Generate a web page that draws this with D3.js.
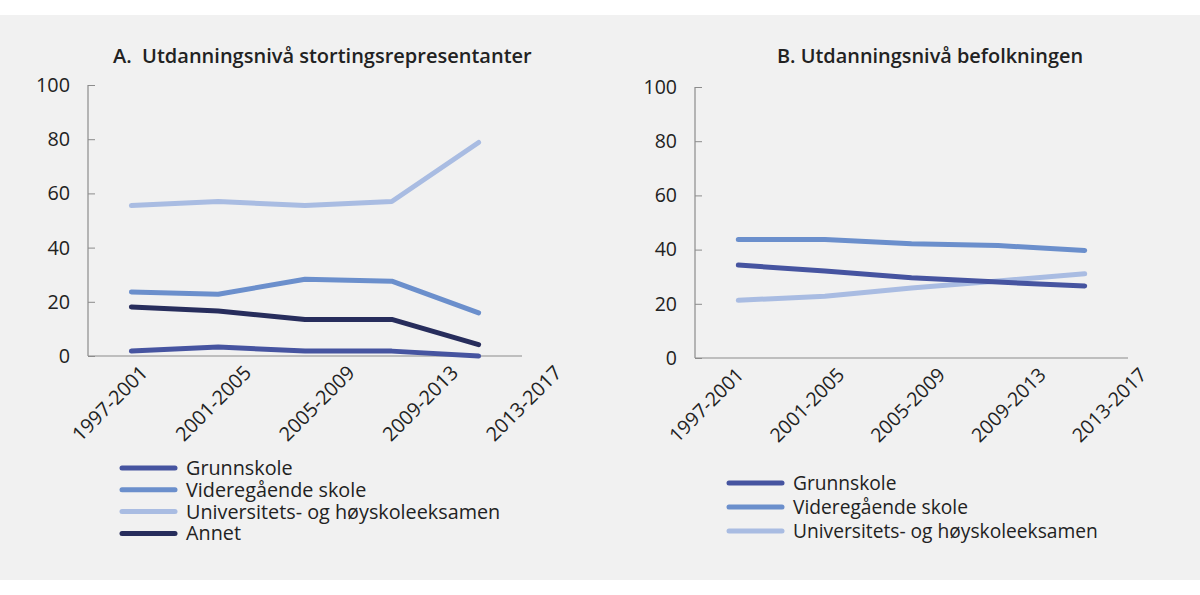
<!DOCTYPE html>
<html>
<head>
<meta charset="utf-8">
<script src="https://cdn.jsdelivr.net/npm/d3@7"></script>
<style>
  body { margin: 0; background: #fff; }
  svg { display: block; font-family: "Open Sans", "Noto Sans", sans-serif; }
  .title { font-weight: 600; fill: #222; }
  .tick-label { fill: #222; }
  .legend-label { fill: #222; }
</style>
</head>
<body>
<svg id="chart" width="1200" height="595"></svg>
<script>
// Periods on the x axis
const periods = ["1997-2001", "2001-2005", "2005-2009", "2009-2013", "2013-2017"];
const yTicks = [0, 20, 40, 60, 80, 100];

// A. Stortingsrepresentanter (percent)
const repGrunnskole   = [1.8, 3.3, 1.8, 1.8, 0];
const repVideregaende = [23.6, 22.8, 28.3, 27.6, 15.9];
const repUniversitet  = [55.5, 57, 55.5, 57, 78.8];
const repAnnet        = [18.1, 16.6, 13.5, 13.5, 4.2];

// B. Befolkningen (percent)
const popGrunnskole   = [34.3, 32.1, 29.6, 28.0, 26.6];
const popVideregaende = [43.7, 43.7, 42.2, 41.5, 39.7];
const popUniversitet  = [21.3, 22.8, 25.8, 28.4, 31.1];

const names = ["Grunnskole", "Videregående skole", "Universitets- og høyskoleeksamen", "Annet"];
const colors = ["#4654a0", "#6b8fcc", "#a9bce2", "#272d5c"];

const svg = d3.select("#chart");

svg.append("rect")
  .attr("x", 0).attr("y", 15)
  .attr("width", 1200).attr("height", 565)
  .attr("fill", "#f1f1f1");

function drawPanel(cfg) {
  const g = svg.append("g");

  const x = d3.scaleBand().domain(periods).range([cfg.left, cfg.right]);
  const y = d3.scaleLinear().domain([0, 100]).range([cfg.bottom, cfg.top]);
  // rotated labels are spread a bit wider than the bands in the original
  const xl = d3.scalePoint().domain(periods).range(cfg.labelRange);

  // title
  g.append("text")
    .attr("class", "title")
    .attr("x", cfg.titleX)
    .attr("y", 63)
    .style("font-size", cfg.titleFont)
    .attr("xml:space", "preserve")
    .text(cfg.title);

  // y axis
  const yAxis = g.append("g")
    .attr("transform", `translate(${cfg.left},0)`)
    .call(d3.axisRight(y).tickValues(yTicks).tickSize(7).tickFormat(""));
  yAxis.select(".domain").remove();
  yAxis.selectAll("line").attr("stroke", "#8c8c8c");

  g.append("line")
    .attr("x1", cfg.left).attr("x2", cfg.left)
    .attr("y1", y(100)).attr("y2", y(0))
    .attr("stroke", "#8c8c8c").attr("stroke-width", 1.2);

  g.selectAll(".ylab")
    .data(yTicks)
    .join("text")
    .attr("class", "tick-label")
    .attr("x", cfg.left - 18)
    .attr("y", d => y(d))
    .attr("dy", "0.35em")
    .attr("text-anchor", "end")
    .style("font-size", cfg.font)
    .text(d => d);

  // x axis
  g.append("line")
    .attr("x1", cfg.left).attr("x2", cfg.right)
    .attr("y1", y(0)).attr("y2", y(0))
    .attr("stroke", "#8c8c8c").attr("stroke-width", 1.2);

  g.selectAll(".xlab")
    .data(periods)
    .join("text")
    .attr("class", "tick-label")
    .attr("text-anchor", "end")
    .attr("transform", d => `translate(${xl(d)},${cfg.labelY}) rotate(-45)`)
    .style("font-size", cfg.font)
    .text(d => d);

  // lines
  const line = d3.line()
    .x((d, i) => x(periods[i]) + x.bandwidth() / 2)
    .y(d => y(d));

  cfg.series.forEach((s, i) => {
    g.append("path")
      .datum(s)
      .attr("fill", "none")
      .attr("stroke", colors[cfg.order[i]])
      .attr("stroke-width", 5)
      .attr("stroke-linecap", "round")
      .attr("stroke-linejoin", "round")
      .attr("d", line);
  });

  // legend
  const leg = g.selectAll(".leg")
    .data(cfg.legend)
    .join("g")
    .attr("transform", (d, i) => `translate(${cfg.legX},${cfg.legY + i * cfg.legStep})`);
  leg.append("line")
    .attr("x1", 0).attr("x2", 53)
    .attr("stroke", d => colors[d])
    .attr("stroke-width", 5)
    .attr("stroke-linecap", "round");
  leg.append("text")
    .attr("class", "legend-label")
    .attr("x", 64)
    .attr("dy", "0.35em")
    .style("font-size", cfg.legFont)
    .text(d => names[d]);
}

drawPanel({
  title: "A.  Utdanningsnivå stortingsrepresentanter",
  titleX: 113, titleFont: "20px", font: "19.8px",
  left: 88, right: 522, top: 85, bottom: 356,
  labelRange: [149, 563], labelY: 374,
  series: [repUniversitet, repVideregaende, repAnnet, repGrunnskole],
  order: [2, 1, 3, 0],
  legend: [0, 1, 2, 3],
  legX: 122, legY: 468, legStep: 21.8, legFont: "19.8px"
});

drawPanel({
  title: "B. Utdanningsnivå befolkningen",
  titleX: 777, titleFont: "19.9px", font: "19.5px",
  left: 695, right: 1128, top: 87, bottom: 358,
  labelRange: [745, 1148], labelY: 376,
  series: [popVideregaende, popUniversitet, popGrunnskole],
  order: [1, 2, 0],
  legend: [0, 1, 2],
  legX: 729, legY: 483, legStep: 24, legFont: "19.2px"
});
</script>
</body>
</html>
